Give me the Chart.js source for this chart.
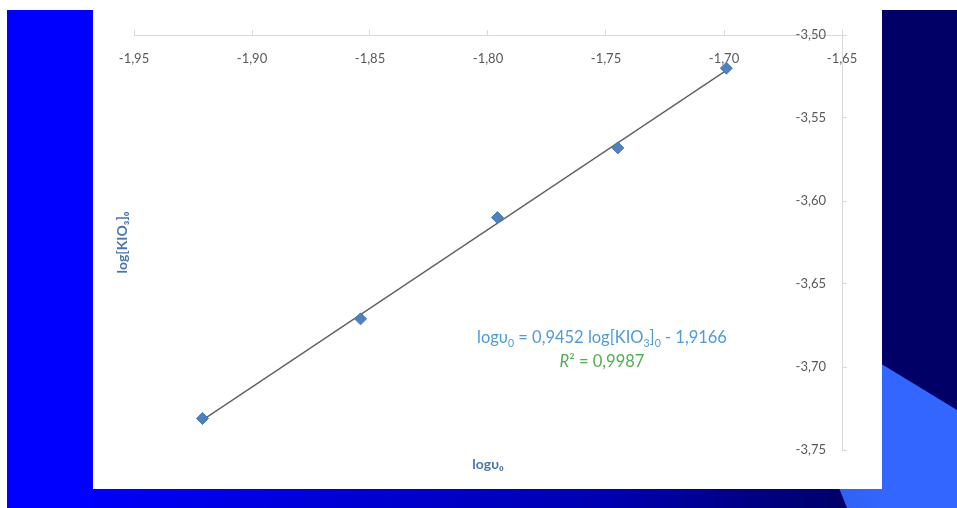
<!DOCTYPE html>
<html lang="pt-br">
  <head>
    <meta charset="UTF-8" />
    <title>log v0 x log[KIO3]0</title>
    <script src="https://cdn.jsdelivr.net/npm/chart.js"></script>
    <style>
      body { margin: 0; background: #ffffff; }
      .slide { position: relative; width: 957px; height: 508px; overflow: hidden; background: #ffffff; }
      .azul { position: absolute; left: 7px; top: 10px; width: 950px; height: 498px; background: #0000ff; }
      .marinho { position: absolute; left: 882px; top: 10px; width: 75px; height: 498px; background: #000066; }
      .faixa { position: absolute; left: 93px; top: 489px; width: 864px; height: 19px;
        background: linear-gradient(to right, #0000f8, #0000b0 60%, #000066 88%); }
      .claro { position: absolute; left: 0; top: 0; width: 957px; height: 508px;
        background: linear-gradient(to right, #2a58e0 80%, #3366ff 92%);
        clip-path: polygon(760px 290px, 957px 410px, 957px 508px, 847px 508px); }
      .grafico { position: absolute; left: 93px; top: 10px; width: 789px; height: 479px; background: #ffffff; }
      .eq { position: absolute; left: 0; width: 100%; text-align: center; white-space: nowrap;
        font-family: Lato, sans-serif; font-size: 16.5px; line-height: 20px; }
      .eq sub { font-size: 10.5px; line-height: 0; }
      .eq1 { top: 327px; color: #4f9ad8; }
      .eq2 { top: 351px; color: #4fb04f; }
    </style>
  </head>
  <body>
    <div class="slide">
      <div class="azul"></div>
      <div class="marinho"></div>
      <div class="faixa"></div>
      <div class="claro"></div>
      <div class="grafico">
        <canvas id="myChart1" width="789" height="479"></canvas>
      </div>
      <div style="position: absolute; left: 470px; top: 0; width: 264px; height: 508px;">
        <div class="eq eq1">logυ<sub>0</sub> = 0,9452 log[KIO<sub>3</sub>]<sub>0</sub> - 1,9166</div>
        <div class="eq eq2"><i>R</i>² = 0,9987</div>
      </div>
    </div>

    <script>
      // dados
      var logKIO3 = [-1.921, -1.854, -1.796, -1.745, -1.699];
      var logV0 = [-3.731, -3.671, -3.610, -3.568, -3.520];

      var xTicks = [-1.95, -1.9, -1.85, -1.8, -1.75, -1.7, -1.65];
      var yTicks = [-3.5, -3.55, -3.6, -3.65, -3.7, -3.75];

      var tituloX = "logυ₀";
      var tituloY = "log[KIO₃]₀";

      // pontos
      var pontos = [];
      for (var i = 0; i < logKIO3.length; i++) {
        pontos.push({ x: logKIO3[i], y: logV0[i] });
      }

      // linha de tendencia (minimos quadrados)
      var n = logKIO3.length, sx = 0, sy = 0, sxx = 0, sxy = 0;
      for (var i = 0; i < n; i++) {
        sx += logKIO3[i];
        sy += logV0[i];
        sxx += logKIO3[i] * logKIO3[i];
        sxy += logKIO3[i] * logV0[i];
      }
      var a = (n * sxy - sx * sy) / (n * sxx - sx * sx);
      var b = (sy - a * sx) / n;
      var xMin = Math.min.apply(null, logKIO3);
      var xMax = Math.max.apply(null, logKIO3);
      var tendencia = [
        { x: xMin, y: a * xMin + b },
        { x: xMax, y: a * xMax + b },
      ];

      function virgula(v) {
        return Number(v).toFixed(2).replace(".", ",");
      }

      var fonteEixo = { family: "Lato", size: 13 };
      var corEixo = "#d9d9d9";

      const config = {
        type: "scatter",
        data: {
          datasets: [
            {
              label: "tendencia",
              data: tendencia,
              showLine: true,
              borderColor: "#5f5f5f",
              borderWidth: 1.3,
              pointRadius: 0,
              order: 2,
            },
            {
              label: "log",
              data: pontos,
              pointStyle: "rectRot",
              pointRadius: 6,
              backgroundColor: "#4f81bd",
              borderColor: "#4a7ab5",
              borderWidth: 1,
              order: 1,
            },
          ],
        },
        options: {
          responsive: false,
          animation: false,
          layout: { padding: 0 },
          plugins: {
            legend: { display: false },
            tooltip: { enabled: false },
          },
          scales: {
            x: {
              position: "top",
              min: -1.95,
              max: -1.65,
              afterBuildTicks: function (s) {
                s.ticks = xTicks.map(function (v) { return { value: v }; });
              },
              afterFit: function (s) { s.height = 25; },
              grid: { drawOnChartArea: false, color: corEixo, tickLength: 5 },
              border: { color: corEixo, width: 1 },
              ticks: {
                mirror: true,
                padding: 16,
                maxRotation: 0,
                color: "#595959",
                font: fonteEixo,
                callback: function (v) { return virgula(v); },
              },
            },
            x2: {
              type: "linear",
              position: "bottom",
              min: -1.95,
              max: -1.65,
              afterFit: function (s) { s.height = 39; },
              grid: { display: false },
              border: { display: false },
              ticks: { display: false },
              title: {
                display: true,
                text: tituloX,
                color: "#4a76b0",
                font: { family: "Lato", size: 14, weight: "bold" },
                padding: { top: 0, bottom: 16 },
              },
            },
            y: {
              position: "right",
              min: -3.75,
              max: -3.5,
              afterBuildTicks: function (s) {
                s.ticks = yTicks.map(function (v) { return { value: v }; });
              },
              afterFit: function (s) { s.width = 40; },
              grid: { drawOnChartArea: false, color: corEixo, tickLength: 5 },
              border: { color: corEixo, width: 1 },
              ticks: {
                mirror: true,
                padding: -16,
                color: "#595959",
                font: fonteEixo,
                callback: function (v) { return virgula(v); },
              },
            },
            y2: {
              type: "linear",
              position: "left",
              min: -3.75,
              max: -3.5,
              afterFit: function (s) { s.width = 41; },
              grid: { display: false },
              border: { display: false },
              ticks: { display: false },
              title: {
                display: true,
                text: tituloY,
                color: "#4a76b0",
                font: { family: "Lato", size: 14, weight: "bold" },
                padding: { top: 21, bottom: 0 },
              },
            },
          },
        },
      };

      // desenhando o grafico
      let myChart = new Chart(document.getElementById("myChart1"), config);
    </script>
  </body>
</html>
